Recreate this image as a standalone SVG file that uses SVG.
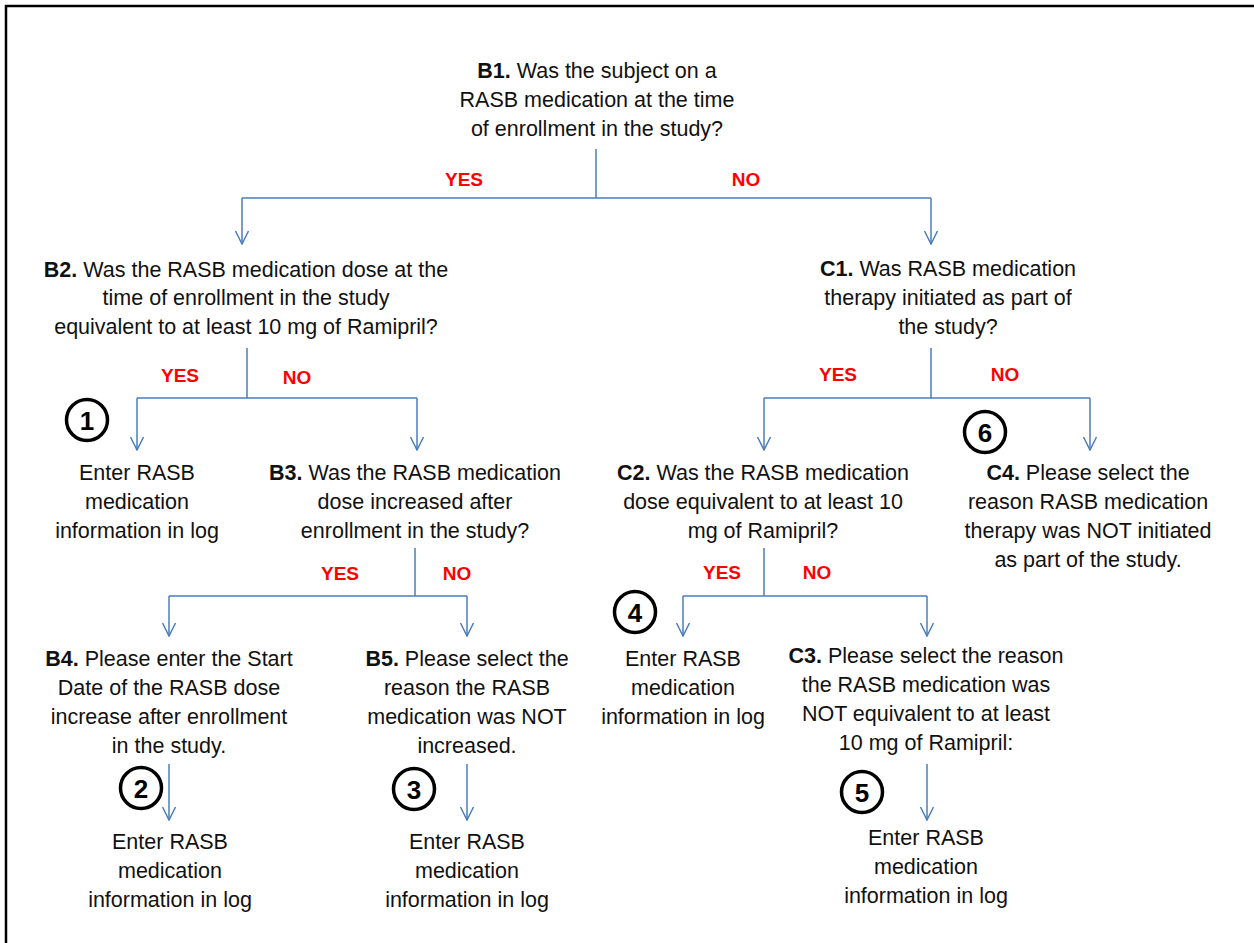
<svg xmlns="http://www.w3.org/2000/svg" width="1254" height="943" viewBox="0 0 1254 943">
<defs>
<style>
.t{font-family:"Liberation Sans",Arial,sans-serif;font-size:21.5px;fill:#111;text-anchor:middle}
.b{font-weight:bold}
.yn{font-family:"Liberation Sans",Arial,sans-serif;font-size:19px;font-weight:bold;fill:#ff0000;text-anchor:middle}
.c{fill:none;stroke:#000;stroke-width:3.5}
.n{font-family:"Liberation Sans",Arial,sans-serif;font-size:26px;font-weight:bold;fill:#000;text-anchor:middle}
.ln{fill:none;stroke:#4a7ebb;stroke-width:1.5}
</style>
<marker id="ah" viewBox="-1 -8 15 16" refX="13" refY="0" markerWidth="15" markerHeight="16" markerUnits="userSpaceOnUse" orient="auto">
<path d="M0,-6.5 L13,0 L0,6.5" fill="none" stroke="#4a7ebb" stroke-width="1.5"/>
</marker>
</defs>
<rect width="1254" height="943" fill="#fff"/>
<path d="M6,943 V6 H1254" fill="none" stroke="#000" stroke-width="2.5"/>

<g id="connectors">
<path class="ln" d="M596,149 V198 M242,198 H931"/>
<path class="ln" d="M242,198 V244" marker-end="url(#ah)"/>
<path class="ln" d="M931,198 V244" marker-end="url(#ah)"/>
<path class="ln" d="M247,348 V398 M137,398 H417"/>
<path class="ln" d="M137,398 V450" marker-end="url(#ah)"/>
<path class="ln" d="M417,398 V450" marker-end="url(#ah)"/>
<path class="ln" d="M931,348 V398 M764,398 H1090"/>
<path class="ln" d="M764,398 V450" marker-end="url(#ah)"/>
<path class="ln" d="M1090,398 V450" marker-end="url(#ah)"/>
<path class="ln" d="M415,548 V596 M169,596 H467"/>
<path class="ln" d="M169,596 V636" marker-end="url(#ah)"/>
<path class="ln" d="M467,596 V636" marker-end="url(#ah)"/>
<path class="ln" d="M764,548 V596 M683,596 H927"/>
<path class="ln" d="M683,596 V636" marker-end="url(#ah)"/>
<path class="ln" d="M927,596 V636" marker-end="url(#ah)"/>
<path class="ln" d="M169,764 V820" marker-end="url(#ah)"/>
<path class="ln" d="M467,764 V820" marker-end="url(#ah)"/>
<path class="ln" d="M927,764 V820" marker-end="url(#ah)"/>
<text class="yn" x="464" y="186">YES</text>
<text class="yn" x="746" y="186">NO</text>
<text class="yn" x="180" y="382">YES</text>
<text class="yn" x="297" y="384">NO</text>
<text class="yn" x="838" y="381">YES</text>
<text class="yn" x="1005" y="381">NO</text>
<text class="yn" x="340" y="580">YES</text>
<text class="yn" x="457" y="580">NO</text>
<text class="yn" x="722" y="579">YES</text>
<text class="yn" x="817" y="579">NO</text>
</g>

<g id="B1">
<text class="t" x="597" y="78"><tspan class="b">B1.</tspan> Was the subject on a</text>
<text class="t" x="597" y="107">RASB medication at the time</text>
<text class="t" x="597" y="136">of enrollment in the study?</text>
</g>

<g id="B2">
<text class="t" x="246" y="277"><tspan class="b">B2.</tspan> Was the RASB medication dose at the</text>
<text class="t" x="246" y="305">time of enrollment in the study</text>
<text class="t" x="246" y="334">equivalent to at least 10 mg of Ramipril?</text>
</g>

<g id="C1">
<text class="t" x="948" y="276"><tspan class="b">C1.</tspan> Was RASB medication</text>
<text class="t" x="948" y="305">therapy initiated as part of</text>
<text class="t" x="948" y="334">the study?</text>
</g>

<g id="E1">
<circle class="c" cx="87" cy="420" r="20.5"/>
<text class="n" x="87" y="429.5">1</text>
<text class="t" x="137" y="480">Enter RASB</text>
<text class="t" x="137" y="509">medication</text>
<text class="t" x="137" y="538">information in log</text>
</g>

<g id="B3">
<text class="t" x="415" y="480"><tspan class="b">B3.</tspan> Was the RASB medication</text>
<text class="t" x="415" y="509">dose increased after</text>
<text class="t" x="415" y="538">enrollment in the study?</text>
</g>

<g id="C2">
<text class="t" x="763" y="480"><tspan class="b">C2.</tspan> Was the RASB medication</text>
<text class="t" x="763" y="509">dose equivalent to at least 10</text>
<text class="t" x="763" y="538">mg of Ramipril?</text>
</g>

<g id="C4">
<circle class="c" cx="985" cy="432" r="20.5"/>
<text class="n" x="985" y="441.5">6</text>
<text class="t" x="1088" y="480"><tspan class="b">C4.</tspan> Please select the</text>
<text class="t" x="1088" y="509">reason RASB medication</text>
<text class="t" x="1088" y="538">therapy was NOT initiated</text>
<text class="t" x="1088" y="567">as part of the study.</text>
</g>

<g id="B4">
<text class="t" x="169" y="666"><tspan class="b">B4.</tspan> Please enter the Start</text>
<text class="t" x="169" y="695">Date of the RASB dose</text>
<text class="t" x="169" y="724">increase after enrollment</text>
<text class="t" x="169" y="753">in the study.</text>
</g>

<g id="B5">
<text class="t" x="467" y="666"><tspan class="b">B5.</tspan> Please select the</text>
<text class="t" x="467" y="695">reason the RASB</text>
<text class="t" x="467" y="724">medication was NOT</text>
<text class="t" x="467" y="753">increased.</text>
</g>

<g id="E4">
<circle class="c" cx="635" cy="612" r="20.5"/>
<text class="n" x="635" y="621.5">4</text>
<text class="t" x="683" y="666">Enter RASB</text>
<text class="t" x="683" y="695">medication</text>
<text class="t" x="683" y="724">information in log</text>
</g>

<g id="C3">
<text class="t" x="926" y="663"><tspan class="b">C3.</tspan> Please select the reason</text>
<text class="t" x="926" y="692">the RASB medication was</text>
<text class="t" x="926" y="721">NOT equivalent to at least</text>
<text class="t" x="926" y="750">10 mg of Ramipril:</text>
</g>

<g id="E2">
<circle class="c" cx="141" cy="788" r="20.5"/>
<text class="n" x="141" y="797.5">2</text>
<text class="t" x="170" y="849">Enter RASB</text>
<text class="t" x="170" y="878">medication</text>
<text class="t" x="170" y="907">information in log</text>
</g>

<g id="E3">
<circle class="c" cx="414" cy="789" r="20.5"/>
<text class="n" x="414" y="798.5">3</text>
<text class="t" x="467" y="849">Enter RASB</text>
<text class="t" x="467" y="878">medication</text>
<text class="t" x="467" y="907">information in log</text>
</g>

<g id="E5">
<circle class="c" cx="862" cy="792" r="20.5"/>
<text class="n" x="862" y="801.5">5</text>
<text class="t" x="926" y="845">Enter RASB</text>
<text class="t" x="926" y="874">medication</text>
<text class="t" x="926" y="903">information in log</text>
</g>
</svg>
